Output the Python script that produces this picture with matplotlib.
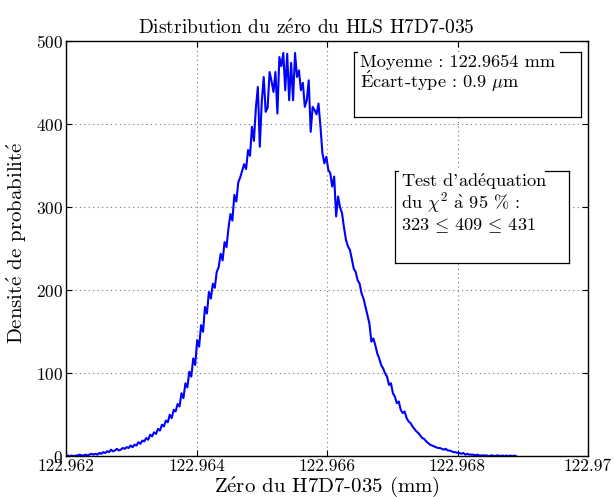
import numpy as np
import matplotlib
matplotlib.use("Agg")
import matplotlib.pyplot as plt
from matplotlib.lines import Line2D

# histogram of the zero position (mm), bins of 0.03 um
x_first = 122.962
x_last = 122.9689
density = [
    0, 1, 0, 1, 0, 1, 1, 2, 1, 1,
    2, 1, 2, 3, 2, 3, 2, 4, 3, 5,
    4, 6, 5, 8, 6, 7, 9, 7, 8, 10,
    9, 11, 10, 13, 11, 14, 13, 17, 15, 19,
    18, 22, 20, 26, 24, 29, 27, 33, 31, 38,
    36, 43, 41, 50, 46, 56, 54, 63, 60, 76,
    70, 88, 83, 102, 96, 118, 110, 140, 132, 158,
    150, 180, 172, 198, 190, 208, 203, 222, 228, 244,
    236, 258, 252, 275, 292, 284, 315, 307, 330, 336,
    344, 352, 346, 369, 362, 397, 380, 420, 445, 373,
    427, 457, 415, 420, 463, 452, 439, 463, 413, 481,
    470, 486, 441, 485, 429, 474, 429, 486, 457, 465,
    441, 450, 421, 429, 453, 391, 421, 417, 412, 425,
    397, 365, 353, 361, 345, 341, 325, 337, 289, 313,
    300, 293, 276, 261, 253, 249, 238, 226, 222, 212,
    208, 196, 190, 180, 170, 160, 138, 142, 134, 124,
    118, 110, 106, 100, 96, 86, 88, 76, 72, 64,
    66, 56, 52, 54, 46, 42, 40, 36, 33, 30,
    28, 25, 22, 21, 18, 16, 14, 13, 12, 11,
    10, 10, 9, 8, 9, 7, 7, 6, 5, 5,
    4, 4, 3, 4, 2, 3, 2, 2, 2, 1,
    2, 1, 1, 1, 1, 1, 0, 1, 1, 0,
    1, 1, 0, 1, 0, 1, 0, 1, 0, 1,
    0,
]
xticks = [122.962, 122.964, 122.966, 122.968, 122.970]
xtick_labels = ["122.962", "122.964", "122.966", "122.968", "122.97"]
yticks = [0, 100, 200, 300, 400, 500]

plt.rcParams["font.family"] = ["cmr10", "DejaVu Serif"]
plt.rcParams["mathtext.fontset"] = "cm"
plt.rcParams["axes.formatter.use_mathtext"] = True

# accented letters through mathtext, cmr10 has no proper glyphs for them
E_ACUTE = r"$\mathrm{\acute{e}}$"
EE_ACUTE = r"$\mathrm{\acute{E}}$"
A_GRAVE = r"$\mathrm{\grave{a}}$"

W, H = 614, 497
fig = plt.figure(figsize=(W / 100, H / 100), dpi=100)
ax = fig.add_axes([66 / W, 1 - 456.3 / H, (588 - 66) / W, (456.3 - 41.3) / H])

xs = np.linspace(x_first, x_last, len(density))
ax.plot(xs, density, color="#0000ff", linewidth=1.5)

ax.set_xlim(122.962, 122.970)
ax.set_ylim(0, 500)
ax.set_xticks(xticks)
ax.set_xticklabels(xtick_labels)
ax.set_yticks(yticks)
ax.tick_params(direction="in", top=True, right=True, labelsize=12.5, length=4, pad=2)
ax.grid(True, linestyle=(0, (1, 3)), color="#777777", linewidth=0.8)
for s in ax.spines.values():
    s.set_linewidth(1.0)


def px(x, y):
    return x / W, 1 - y / H


# title sits centred on the figure, not on the axes
fig.text(*px(306, 34), "Distribution du z" + E_ACUTE + "ro du HLS H7D7-035",
         fontsize=14, ha="center", va="baseline")
ax.set_xlabel("Z" + E_ACUTE + "ro du H7D7-035 (mm)", fontsize=15, labelpad=0)
ax.set_ylabel("Densit" + E_ACUTE + " de probabilit" + E_ACUTE, fontsize=15, labelpad=3)
ax.yaxis.set_label_coords(-0.07, 0.515)


def box(x0, y0, x1, y1, gap_end):
    # MATLAB-style text box: top edge only drawn at the corners
    segs = [((x0, y0), (x0, y1)), ((x0, y1), (x1, y1)), ((x1, y1), (x1, y0)),
            ((x0, y0), (x0 + 3, y0)), ((gap_end, y0), (x1, y0))]
    for a, b in segs:
        (xa, ya), (xb, yb) = px(*a), px(*b)
        fig.add_artist(Line2D([xa, xb], [ya, yb], color="black", linewidth=0.9,
                              transform=fig.transFigure))
    fig.add_artist(matplotlib.patches.Rectangle(px(x0, y1), (x1 - x0) / W, (y1 - y0) / H,
                                                facecolor="white", edgecolor="none",
                                                transform=fig.transFigure, zorder=0.5))


box(354, 51.7, 580.7, 117.3, 560)
fig.text(*px(360, 66.7), "Moyenne : 122.9654 mm", fontsize=13.2, va="baseline")
fig.text(*px(360, 87.5), EE_ACUTE + "cart-type : 0.9 $\\mu$m", fontsize=13.2, va="baseline")

box(395, 171, 569.3, 262.7, 545)
fig.text(*px(400.7, 186.7), "Test d'ad" + E_ACUTE + "quation", fontsize=13.2, va="baseline")
fig.text(*px(400.7, 208), "du $\\chi^2$ " + A_GRAVE + " 95 % :", fontsize=13.2, va="baseline")
fig.text(*px(400.7, 230.7), r"$323\,\leq\,409\,\leq\,431$", fontsize=13.2, va="baseline")

fig.savefig("out.png", dpi=100)
